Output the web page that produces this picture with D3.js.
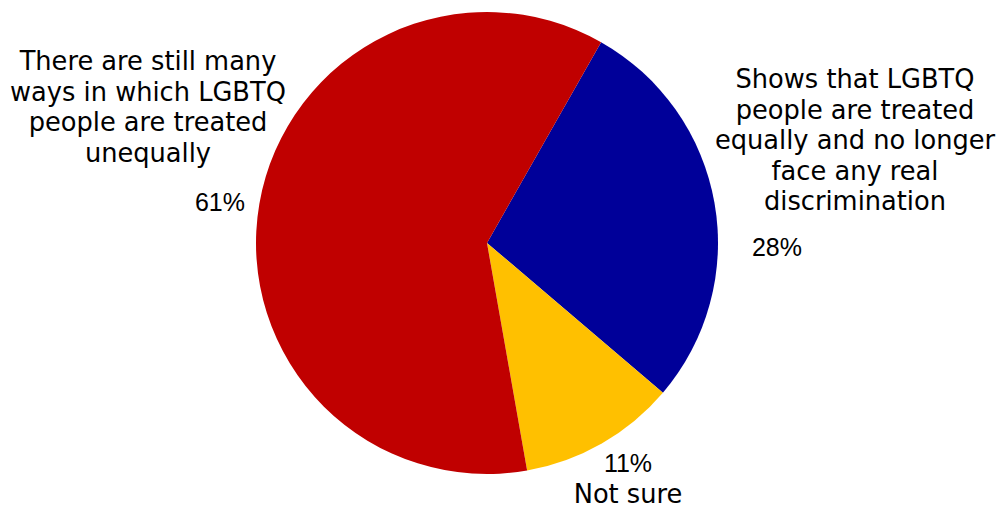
<!DOCTYPE html>
<html>
<head>
<meta charset="utf-8">
<script src="https://cdn.jsdelivr.net/npm/d3@7"></script>
<style>
  body { margin: 0; background: #fff; }
</style>
</head>
<body>
<div id="chart"></div>
<script>
var w = 999;
var h = 508;

var categories = ["Shows that LGBTQ people are treated equally and no longer face any real discrimination", "Not sure", "There are still many ways in which LGBTQ people are treated unequally"];
var values = [28, 11, 61];
var pctLabels = ["28%", "11%", "61%"];
var colors = ["#000099", "#FFC000", "#C00000"];

// wrapped lines of the category names
var nameLines = [
    ["Shows that LGBTQ", "people are treated", "equally and no longer", "face any real", "discrimination"],
    ["Not sure"],
    ["There are still many", "ways in which LGBTQ", "people are treated", "unequally"]
];

var cx = 487, cy = 243;
var outerRadius = 231;
var startAngle = 29.6 * Math.PI / 180;

// label placement: [name x, name first baseline, pct x, pct baseline]
var labelPos = [
    [855, 88, 777, 256],
    [628, 503, 628, 472],
    [148, 70, 220, 211]
];

var svg = d3.select("#chart")
            .append("svg")
            .attr("width", w)
            .attr("height", h);

var arc = d3.arc()
            .outerRadius(outerRadius)
            .innerRadius(0);

var pie = d3.pie()
            .sort(null)
            .startAngle(startAngle)
            .endAngle(startAngle + 2 * Math.PI);

var arcs = svg.selectAll("g.arc")
                .data(pie(values))
                .enter()
                .append("g")
                .attr("class", "arc")
                .attr("transform", "translate(" + cx + "," + cy + ")");

arcs.append("path")
    .attr("fill", function(d, i) { return colors[i]; })
    .attr("d", arc);

var labels = svg.selectAll("g.lbl")
    .data(categories)
    .enter()
    .append("g")
    .attr("class", "lbl");

labels.append("text")
    .attr("text-anchor", "middle")
    .attr("font-family", "DejaVu Sans, Verdana, sans-serif")
    .attr("font-size", "25.7px")
    .attr("fill", "#000")
    .each(function(d, i) {
        var t = d3.select(this);
        nameLines[i].forEach(function(line, j) {
            t.append("tspan")
                .attr("x", labelPos[i][0])
                .attr("y", labelPos[i][1] + j * 30.5)
                .text(line);
        });
    });

labels.append("text")
    .attr("text-anchor", "middle")
    .attr("font-family", "Liberation Sans, Arial, sans-serif")
    .attr("font-size", "25px")
    .attr("fill", "#000")
    .attr("x", function(d, i) { return labelPos[i][2]; })
    .attr("y", function(d, i) { return labelPos[i][3]; })
    .text(function(d, i) { return pctLabels[i]; });
</script>
</body>
</html>
